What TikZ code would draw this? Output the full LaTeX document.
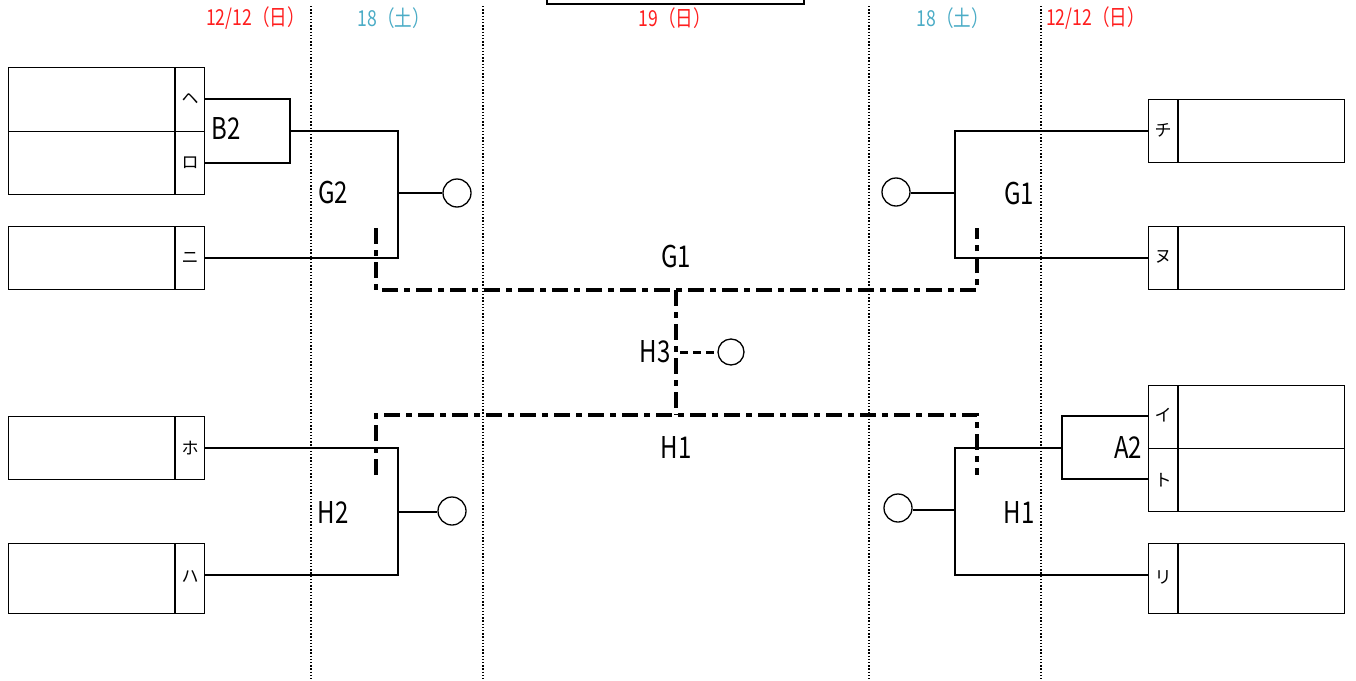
\documentclass[tikz,border=0pt]{standalone}
\usepackage{fontspec}
\setmainfont{Noto Sans CJK JP}
\newfontfamily\cond[FakeStretch=0.8]{Noto Sans CJK JP}
\newfontfamily\datefont[FakeStretch=0.8]{Noto Sans CJK JP}
\definecolor{datered}{RGB}{255,30,30}
\definecolor{dateblue}{RGB}{75,172,198}
\begin{document}
\begin{tikzpicture}[x=1pt,y=-1pt,
  box/.style={draw, line width=1.2pt, minimum width=196pt, inner sep=0pt, anchor=north west},
  wire/.style={line width=1.8pt},
  res/.style={circle, draw, line width=1.3pt, minimum size=28pt, inner sep=0pt},
  dd/.style={line width=3.5pt, dash pattern=on 16pt off 6pt on 6pt off 6pt},
  h3dash/.style={line width=3pt, dash pattern=on 8pt off 5pt},
  dotline/.style={line width=1.4pt, dash pattern=on 1.4pt off 1.8pt},
  kana/.style={font=\fontsize{17}{17}\selectfont, inner sep=0pt},
  lbl/.style={font=\cond\fontsize{30}{30}\selectfont, inner sep=0pt},
  date/.style={font=\datefont\fontsize{22}{22}\selectfont, inner sep=0pt}]
\useasboundingbox (0,0) rectangle (1356,680);
% dotted day separators
\draw[dotline] (311,6) -- (311,680);
\draw[dotline] (483,6) -- (483,680);
\draw[dotline] (869,6) -- (869,680);
\draw[dotline] (1041,6) -- (1041,680);
% title box (cut off)
\draw[line width=2.5pt] (547,-2) -- (547,4) -- (804,4) -- (804,-2);
% dates
\node[date, text=datered, anchor=east] (d1) at (305,18) {12/12（日）};
\node[date, text=dateblue] (d2) at (394,18) {18（土）};
\node[date, text=datered] (d3) at (675,18) {19（日）};
\node[date, text=dateblue] (d4) at (953,18) {18（土）};
\node[date, text=datered, anchor=west] (d5) at (1046,18) {12/12（日）};
% left boxes
\node[box, minimum height=127pt] (bHR) at (8,67) {};
\draw[line width=1.2pt] (bHR.west) -- (bHR.east);
\draw[line width=1.2pt] ([xshift=167pt]bHR.north west) -- ([xshift=167pt]bHR.south west);
\node[box, minimum height=63pt] (bNI) at (8,226) {};
\draw[line width=1.2pt] ([xshift=167pt]bNI.north west) -- ([xshift=167pt]bNI.south west);
\node[box, minimum height=63pt] (bHO) at (8,416) {};
\draw[line width=1.2pt] ([xshift=167pt]bHO.north west) -- ([xshift=167pt]bHO.south west);
\node[box, minimum height=70pt] (bHA) at (8,543) {};
\draw[line width=1.2pt] ([xshift=167pt]bHA.north west) -- ([xshift=167pt]bHA.south west);
\node[kana] (kHE) at (190,99) {ヘ};
\node[kana] (kRO) at (190,163) {ロ};
\node[kana] (kNI) at (190,258) {ニ};
\node[kana] (kHO) at (190,448) {ホ};
\node[kana] (kHA) at (190,577) {ハ};
% right boxes
\node[box, minimum height=63pt] (bCHI) at (1148,99) {};
\draw[line width=1.2pt] ([xshift=30pt]bCHI.north west) -- ([xshift=30pt]bCHI.south west);
\node[box, minimum height=63pt] (bNU) at (1148,226) {};
\draw[line width=1.2pt] ([xshift=30pt]bNU.north west) -- ([xshift=30pt]bNU.south west);
\node[box, minimum height=126pt] (bIT) at (1148,385) {};
\draw[line width=1.2pt] (bIT.west) -- (bIT.east);
\draw[line width=1.2pt] ([xshift=30pt]bIT.north west) -- ([xshift=30pt]bIT.south west);
\node[box, minimum height=70pt] (bRI) at (1148,543) {};
\draw[line width=1.2pt] ([xshift=30pt]bRI.north west) -- ([xshift=30pt]bRI.south west);
\node[kana] (kCHI) at (1163,130) {チ};
\node[kana] (kNU) at (1163,257) {ヌ};
\node[kana] (kI) at (1163,415) {イ};
\node[kana] (kTO) at (1163,480) {ト};
\node[kana] (kRI) at (1163,577) {リ};
% ports and junctions
\coordinate (pHE) at (204,99);
\coordinate (pRO) at (204,163);
\coordinate (pNI) at (204,258);
\coordinate (pHO) at (204,448);
\coordinate (pHA) at (204,575);
\coordinate (jB2) at (290,131);
\coordinate (jG2) at (398,193);
\coordinate (jH2) at (398,512);
\coordinate (pCHI) at (1148,131);
\coordinate (pNU) at (1148,258);
\coordinate (pI) at (1148,416);
\coordinate (pTO) at (1148,479);
\coordinate (pRI) at (1148,575);
\coordinate (jA2) at (1062,448);
\coordinate (jG1) at (955,193);
\coordinate (jH1) at (955,510);
% result circles
\node[res] (cG2) at (457,193) {};
\node[res] (cH2) at (452,511) {};
\node[res] (cG1) at (896,192) {};
\node[res] (cH1) at (898,508) {};
\node[res, minimum size=26pt] (cH3) at (731,352) {};
% match labels
\node[lbl] (lB2) at (226,129) {B2};
\node[lbl] (lG2) at (333,193) {G2};
\node[lbl] (lH2) at (333,512) {H2};
\node[lbl] (lG1r) at (1019,194) {G1};
\node[lbl] (lH1r) at (1019,512) {H1};
\node[lbl] (lA2) at (1128,447) {A2};
\node[lbl] (lG1) at (676,257) {G1};
\node[lbl] (lH1) at (676,447) {H1};
\node[lbl] (lH3) at (655,352) {H3};
% left brackets
\draw[wire] (pHE) -| (jB2) |- (pRO);
\draw[wire] (jB2) -| (jG2) |- (pNI);
\draw[wire] (jG2) -- (cG2.west |- jG2);
\draw[wire] (pHO) -| (jH2) |- (pHA);
\draw[wire] (jH2) -- (cH2.west |- jH2);
% right brackets
\draw[wire] (pCHI) -| (jG1) |- (pNU);
\draw[wire] (jG1) -- (cG1.east |- jG1);
\draw[wire] (pI) -| (jA2) |- (pTO);
\draw[wire] (jA2) -| (jH1) |- (pRI);
\draw[wire] (jH1) -- (cH1.east |- jH1);
% semifinal / final dash-dot
\coordinate (sG) at (676,290);
\coordinate (sH) at (676,415);
\draw[dd] (376,228) -- (376,290) -- (sG) -- (977,290) -- (977,228);
\draw[dd] (376,475) -- (376,415) -- (sH) -- (977,415) -- (977,475);
\draw[dd] (sG) -- (sH);
\draw[h3dash] (680,352) -- (cH3.west);
\end{tikzpicture}
\end{document}
